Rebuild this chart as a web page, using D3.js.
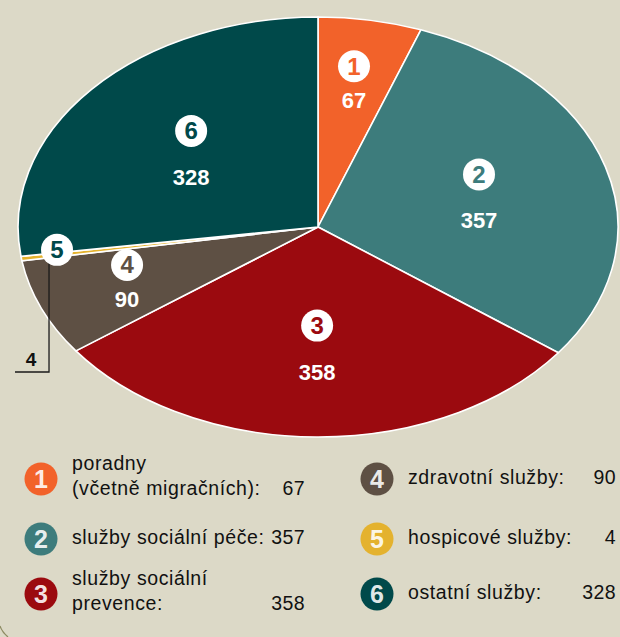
<!DOCTYPE html>
<html>
<head>
<meta charset="utf-8">
<script src="https://cdn.jsdelivr.net/npm/d3@7"></script>
<style>
  html, body { margin: 0; padding: 0; background: #dcd9c7; }
  svg { display: block; font-family: "Liberation Sans", Arial, sans-serif; }
</style>
</head>
<body>
<div id="chart"></div>
<script>
// data
const categories = ['1', '2', '3', '4', '5', '6']
const values = [67, 357, 358, 90, 4, 328]
const legendLabels = [
  ['poradny', '(včetně migračních):'],
  ['služby sociální péče:'],
  ['služby sociální', 'prevence:'],
  ['zdravotní služby:'],
  ['hospicové služby:'],
  ['ostatní služby:']
]
const colors = ['#f2622a', '#3d7c7c', '#9b0a0f', '#5e5044', '#e4b22e', '#00494a']

const width = 620
const height = 637
const cx = 318
const cy = 227
const rx = 300
const ry = 210

const svg = d3.select('#chart').append('svg')
  .attr('width', width)
  .attr('height', height)

// bit of the panel's rounded corner showing bottom left
svg.append('path')
  .attr('d', 'M0,626 Q2,632 8,637')
  .attr('fill', 'none')
  .attr('stroke', '#8d8b62')
  .attr('stroke-width', 1.2)

const color = d3.scaleOrdinal().domain(categories).range(colors)

const pie = d3.pie().sort(null).value(d => d.value)
const arcs = pie(categories.map((c, i) => ({ id: c, value: values[i] })))

const arc = d3.arc().innerRadius(0).outerRadius(1)

// ellipse = unit pie scaled
svg.append('g')
  .attr('transform', `translate(${cx},${cy}) scale(${rx},${ry})`)
  .selectAll('path')
  .data(arcs)
  .join('path')
  .attr('d', arc)
  .attr('fill', d => color(d.data.id))
  .attr('stroke', '#fff')
  .attr('stroke-width', 1.6)
  .attr('vector-effect', 'non-scaling-stroke')

const pointAt = (d, r) => {
  const a = (d.startAngle + d.endAngle) / 2
  return [cx + rx * r * Math.sin(a), cy - ry * r * Math.cos(a)]
}

const badge = (g, x, y, num, numColor) => {
  g.append('circle')
    .attr('cx', x).attr('cy', y).attr('r', 16)
    .attr('fill', '#fff')
  g.append('text')
    .attr('x', x).attr('y', y + 8.5)
    .attr('text-anchor', 'middle')
    .attr('font-weight', 'bold')
    .attr('font-size', 24)
    .attr('fill', numColor)
    .text(num)
}

const labels = svg.append('g')

arcs.forEach(d => {
  const span = d.endAngle - d.startAngle
  if (span < 0.1) return
  const big = span > 1
  const [x, y] = pointAt(d, big ? 0.56 : 0.69)
  badge(labels, x, y + (big ? -19 : -18), d.data.id, color(d.data.id))
  labels.append('text')
    .attr('x', x).attr('y', y + (big ? 35 : 24))
    .attr('text-anchor', 'middle')
    .attr('font-weight', 'bold')
    .attr('font-size', 22)
    .attr('fill', '#fff')
    .text(d.data.value)
})

// tiny slice: badge on the rim + leader line
const tiny = arcs.find(d => d.endAngle - d.startAngle < 0.1)
const [tx, ty] = pointAt(tiny, 0.88)
labels.append('polyline')
  .attr('points', `${tx - 8},${ty} ${tx - 8},372 15,372`)
  .attr('fill', 'none')
  .attr('stroke', '#1a1a1a')
  .attr('stroke-width', 1.3)
badge(labels, tx, ty - 5, tiny.data.id, colors[5])
labels.append('text')
  .attr('x', 31).attr('y', 366)
  .attr('text-anchor', 'middle')
  .attr('font-weight', 'bold')
  .attr('font-size', 19)
  .attr('fill', '#111')
  .text(tiny.data.value)

// legend
const colX = [41, 377]
const valRight = [305, 616]
const rowY = [479, 539, 594]

const legend = svg.append('g')
categories.forEach((c, i) => {
  const col = i < 3 ? 0 : 1
  const y = rowY[i % 3]
  const x = colX[col]
  const lines = legendLabels[i]
  legend.append('circle')
    .attr('cx', x).attr('cy', y).attr('r', 16.5)
    .attr('fill', color(c))
  legend.append('text')
    .attr('x', x).attr('y', y + 8.5)
    .attr('text-anchor', 'middle')
    .attr('font-weight', 'bold')
    .attr('font-size', 25)
    .attr('fill', '#fff')
    .attr('fill-opacity', 0.9)
    .text(c)
  const base = lines.length > 1 ? y - 9 : y + 5
  lines.forEach((t, k) => {
    legend.append('text')
      .attr('x', x + 31).attr('y', base + k * 24.5)
      .attr('font-size', 19.5)
      .attr('letter-spacing', 0.6)
      .attr('fill', '#111')
      .text(t)
  })
  legend.append('text')
    .attr('x', valRight[col]).attr('y', base + (lines.length - 1) * 24.5)
    .attr('text-anchor', 'end')
    .attr('font-size', 19.5)
    .attr('letter-spacing', 0.4)
    .attr('fill', '#111')
    .text(values[i])
})
</script>
</body>
</html>
